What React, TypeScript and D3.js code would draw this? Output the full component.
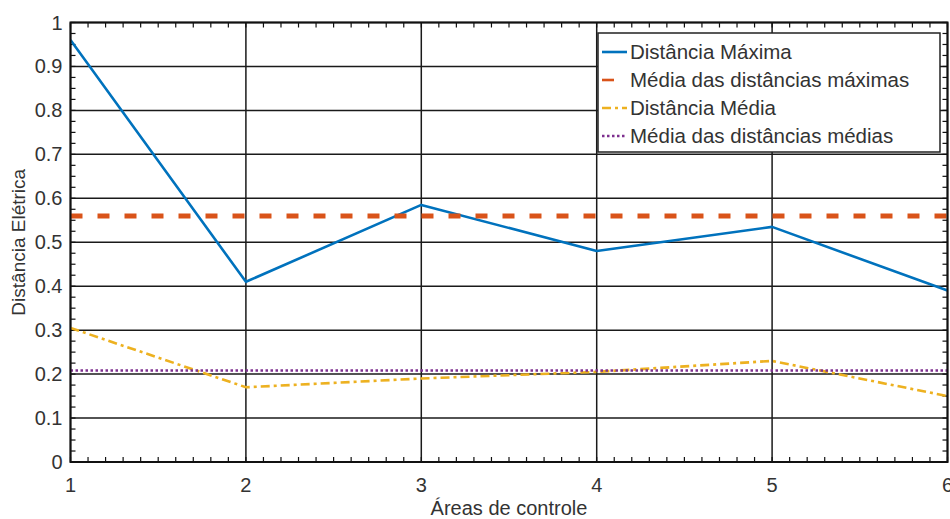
import React from "react";
import * as d3 from "d3";

const areas = [1, 2, 3, 4, 5, 6];
const distMax = [0.96, 0.41, 0.585, 0.48, 0.535, 0.39];
const distMed = [0.305, 0.17, 0.19, 0.205, 0.23, 0.15];
const xTicks = [1, 2, 3, 4, 5, 6];
const yTicks = [0, 0.1, 0.2, 0.3, 0.4, 0.5, 0.6, 0.7, 0.8, 0.9, 1];
const yTickLabels = ["0", "0.1", "0.2", "0.3", "0.4", "0.5", "0.6", "0.7", "0.8", "0.9", "1"];
const legendLabels = [
  "Distância Máxima",
  "Média das distâncias máximas",
  "Distância Média",
  "Média das distâncias médias",
];
const xLabel = "Áreas de controle";
const yLabel = "Distância Elétrica";

const W = 950;
const H = 519;
const M = { left: 70.5, right: 2.5, top: 22.5, bottom: 57 };

const FONT = "'Liberation Sans', Arial, Helvetica, sans-serif";
const TXT = "#333";

export default function App() {
  const x = d3.scaleLinear().domain([1, 6]).range([M.left, W - M.right]);
  const y = d3.scaleLinear().domain([0, 1]).range([H - M.bottom, M.top]);

  const meanMax = d3.mean(distMax) as number;
  const meanMed = d3.mean(distMed) as number;

  const line = d3
    .line<number>()
    .x((_, i) => x(areas[i]))
    .y((d) => y(d));

  const x0 = x.range()[0];
  const x1 = x.range()[1];
  const y0 = y.range()[0];
  const y1 = y.range()[1];

  const xMinor = d3.range(1, 6.0001, 0.1);
  const yMinor = d3.range(0, 1.0001, 0.025);

  const series = [
    { color: "#0072BD", width: 2.6, dash: "", sample: "" },
    { color: "#D95319", width: 5, dash: "12,15", sample: "12,15" },
    { color: "#EDB120", width: 2.6, dash: "9,4,3,4", sample: "9,4,3,4" },
    { color: "#7E2F8E", width: 2.6, dash: "2.5,2.5", sample: "2.5,2.5" },
  ];

  const lg = { x: 598, y: 33, w: 342, h: 119 };
  const rowY = [52, 80, 108, 136];

  return (
    <svg
      width={W}
      height={H}
      style={{ position: "absolute", left: 0, top: 0, background: "#fff" }}
      fontFamily={FONT}
    >
      <rect x={0} y={0} width={W} height={H} fill="#fff" />
      <defs>
        <clipPath id="plot">
          <rect x={x0} y={y1} width={x1 - x0} height={y0 - y1} />
        </clipPath>
      </defs>
      {/* grid */}
      {xTicks.map((t) => (
        <line key={"gx" + t} x1={x(t)} x2={x(t)} y1={y0} y2={y1} stroke="#1a1a1a" strokeWidth={1.5} />
      ))}
      {yTicks.map((t) => (
        <line key={"gy" + t} x1={x0} x2={x1} y1={y(t)} y2={y(t)} stroke="#1a1a1a" strokeWidth={1.5} />
      ))}
      {/* minor ticks */}
      {xMinor.map((t, i) => (
        <g key={"mx" + i}>
          <line x1={x(t)} x2={x(t)} y1={y0} y2={y0 - 5} stroke="#111" strokeWidth={1.2} />
          <line x1={x(t)} x2={x(t)} y1={y1} y2={y1 + 5} stroke="#111" strokeWidth={1.2} />
        </g>
      ))}
      {yMinor.map((t, i) => (
        <g key={"my" + i}>
          <line x1={x0} x2={x0 + 5} y1={y(t)} y2={y(t)} stroke="#111" strokeWidth={1.2} />
          <line x1={x1} x2={x1 - 5} y1={y(t)} y2={y(t)} stroke="#111" strokeWidth={1.2} />
        </g>
      ))}
      {/* data */}
      <g clipPath="url(#plot)">
        <path d={line(distMax) || ""} fill="none" stroke={series[0].color} strokeWidth={series[0].width} strokeLinejoin="round" />
        <line x1={x0} x2={x1} y1={y(meanMax)} y2={y(meanMax)} stroke={series[1].color} strokeWidth={series[1].width} strokeDasharray={series[1].dash} />
        <path d={line(distMed) || ""} fill="none" stroke={series[2].color} strokeWidth={series[2].width} strokeDasharray={series[2].dash} />
        <line x1={x0} x2={x1} y1={y(meanMed)} y2={y(meanMed)} stroke={series[3].color} strokeWidth={series[3].width} strokeDasharray={series[3].dash} />
      </g>
      {/* axes box */}
      <rect x={x0} y={y1} width={x1 - x0} height={y0 - y1} fill="none" stroke="#111" strokeWidth={2} />
      {/* tick labels */}
      {xTicks.map((t) => (
        <text key={"tx" + t} x={x(t)} y={y0 + 30} textAnchor="middle" fontSize={20} fill={TXT}>
          {t}
        </text>
      ))}
      {yTicks.map((t, i) => (
        <text key={"ty" + t} x={x0 - 8} y={y(t) + 7} textAnchor="end" fontSize={20} fill={TXT}>
          {yTickLabels[i]}
        </text>
      ))}
      <text x={(x0 + x1) / 2} y={H - 4} textAnchor="middle" fontSize={20} fill={TXT}>
        {xLabel}
      </text>
      <text
        transform={`translate(25,${(y0 + y1) / 2}) rotate(-90)`}
        textAnchor="middle"
        fontSize={19}
        fill={TXT}
      >
        {yLabel}
      </text>
      {/* legend */}
      <rect x={lg.x} y={lg.y} width={lg.w} height={lg.h} fill="#fff" stroke="#222" strokeWidth={1.5} />
      {legendLabels.map((l, i) => (
        <g key={"lg" + i}>
          <line
            x1={lg.x + 4}
            x2={lg.x + 29}
            y1={rowY[i]}
            y2={rowY[i]}
            stroke={series[i].color}
            strokeWidth={i === 1 ? 2.6 : series[i].width}
            strokeDasharray={series[i].sample}
          />
          <text x={lg.x + 32} y={rowY[i] + 7} fontSize={20.5} fill={TXT}>
            {l}
          </text>
        </g>
      ))}
    </svg>
  );
}
